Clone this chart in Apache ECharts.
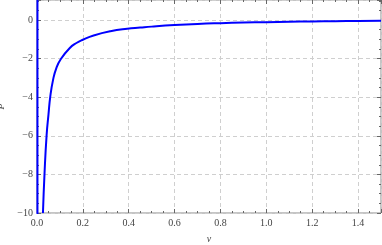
<!DOCTYPE html>
<html>
<head>
<meta charset="utf-8">
<script src="https://cdn.jsdelivr.net/npm/echarts@6/dist/echarts.min.js"></script>
<style>html,body{margin:0;padding:0;background:#fff}#c{width:382px;height:245px}</style>
</head>
<body>
<div id="c"></div>
<script>
// Data
var vValues = [0.026, 0.033, 0.042, 0.05, 0.058, 0.07, 0.084, 0.104, 0.142, 0.172, 0.2, 0.247, 0.32, 0.393, 0.45, 0.5, 0.6, 0.7, 0.8, 0.9, 1.0, 1.1, 1.2, 1.3, 1.4, 1.5];
var pValues = [-10, -7.9, -5.95, -4.9, -3.95, -3.1, -2.5, -2.02, -1.46, -1.19, -1.02, -0.8, -0.58, -0.45, -0.39, -0.34, -0.26, -0.2, -0.16, -0.13, -0.11, -0.09, -0.072, -0.058, -0.046, -0.035];
// near-vertical branch at v ~ 0
var branchV = [0.002, 0.002];
var branchP = [2, -11];
var xTickLabels = ['0.0', '0.2', '0.4', '0.6', '0.8', '1.0', '1.2', '1.4'];
var yTickLabels = ['−10', '−8', '−6', '−4', '−2', '0'];

var font = '"Liberation Serif", "Times New Roman", serif';
var tickColor = '#666';

function zip(a, b) { return a.map(function (x, i) { return [x, b[i]]; }); }
function isMult(v, step) { var r = v / step; return Math.abs(r - Math.round(r)) < 1e-6; }

function xAxisDef(pos, interval, len, showLabel) {
  return {
    type: 'value', position: pos, min: 0, max: 1.5, interval: interval,
    axisLine: { show: false, onZero: false },
    axisTick: { show: true, inside: true, length: len, lineStyle: { color: tickColor, width: 1 } },
    axisLabel: showLabel ? {
      show: true, margin: 5, color: '#444', fontFamily: font, fontSize: 10,
      formatter: function (v) { if (!isMult(v, 0.2)) return ''; var i = Math.round(v / 0.2); return xTickLabels[i] || ''; }
    } : { show: false },
    splitLine: showLabel ? { show: true, lineStyle: { color: '#cfcfcf', type: [4, 3], width: 1 } } : { show: false },
    name: showLabel ? 'v' : '', nameLocation: 'middle', nameGap: 21,
    nameTextStyle: { fontFamily: font, fontStyle: 'italic', fontSize: 10, color: '#444' }
  };
}
function yAxisDef(pos, interval, len, showLabel) {
  return {
    type: 'value', position: pos, min: -10, max: 1.04, interval: interval,
    axisLine: { show: false, onZero: false },
    axisTick: { show: true, inside: true, length: len, lineStyle: { color: tickColor, width: 1 } },
    axisLabel: showLabel ? {
      show: true, margin: 4, color: '#444', fontFamily: font, fontSize: 10,
      formatter: function (v) { if (!isMult(v, 2) || v > 0.01) return ''; var i = Math.round((v + 10) / 2); return yTickLabels[i] || ''; }
    } : { show: false },
    splitLine: showLabel ? { show: true, lineStyle: { color: '#cfcfcf', type: [4, 3], width: 1 } } : { show: false },
    name: showLabel ? 'P' : '', nameLocation: 'middle', nameGap: 27, nameRotate: 90,
    nameTextStyle: { fontFamily: font, fontStyle: 'italic', fontSize: 10, color: '#444' }
  };
}

var chart = echarts.init(document.getElementById('c'), null, { renderer: 'canvas' });
chart.setOption({
  animation: false,
  grid: {
    left: 37, right: 1, top: 0, bottom: 32, containLabel: false, outerBoundsMode: 'none',
    show: true, borderColor: '#8a8a8a', borderWidth: 1, backgroundColor: 'transparent'
  },
  xAxis: [
    xAxisDef('bottom', 0.2, 4, true),
    xAxisDef('bottom', 0.05, 2, false),
    xAxisDef('top', 0.2, 4, false),
    xAxisDef('top', 0.05, 2, false)
  ],
  yAxis: [
    yAxisDef('left', 2, 4, true),
    yAxisDef('left', 0.5, 2, false),
    yAxisDef('right', 2, 4, false),
    yAxisDef('right', 0.5, 2, false)
  ],
  series: [
    {
      type: 'line', xAxisIndex: 0, yAxisIndex: 0, data: zip(branchV, branchP),
      showSymbol: false, symbol: 'none', clip: true,
      lineStyle: { color: '#0000ff', width: 2 }
    },
    {
      type: 'line', xAxisIndex: 0, yAxisIndex: 0, data: zip(vValues, pValues),
      showSymbol: false, symbol: 'none', clip: true, smooth: true,
      lineStyle: { color: '#0000ff', width: 2 }
    }
  ]
});
</script>
</body>
</html>
